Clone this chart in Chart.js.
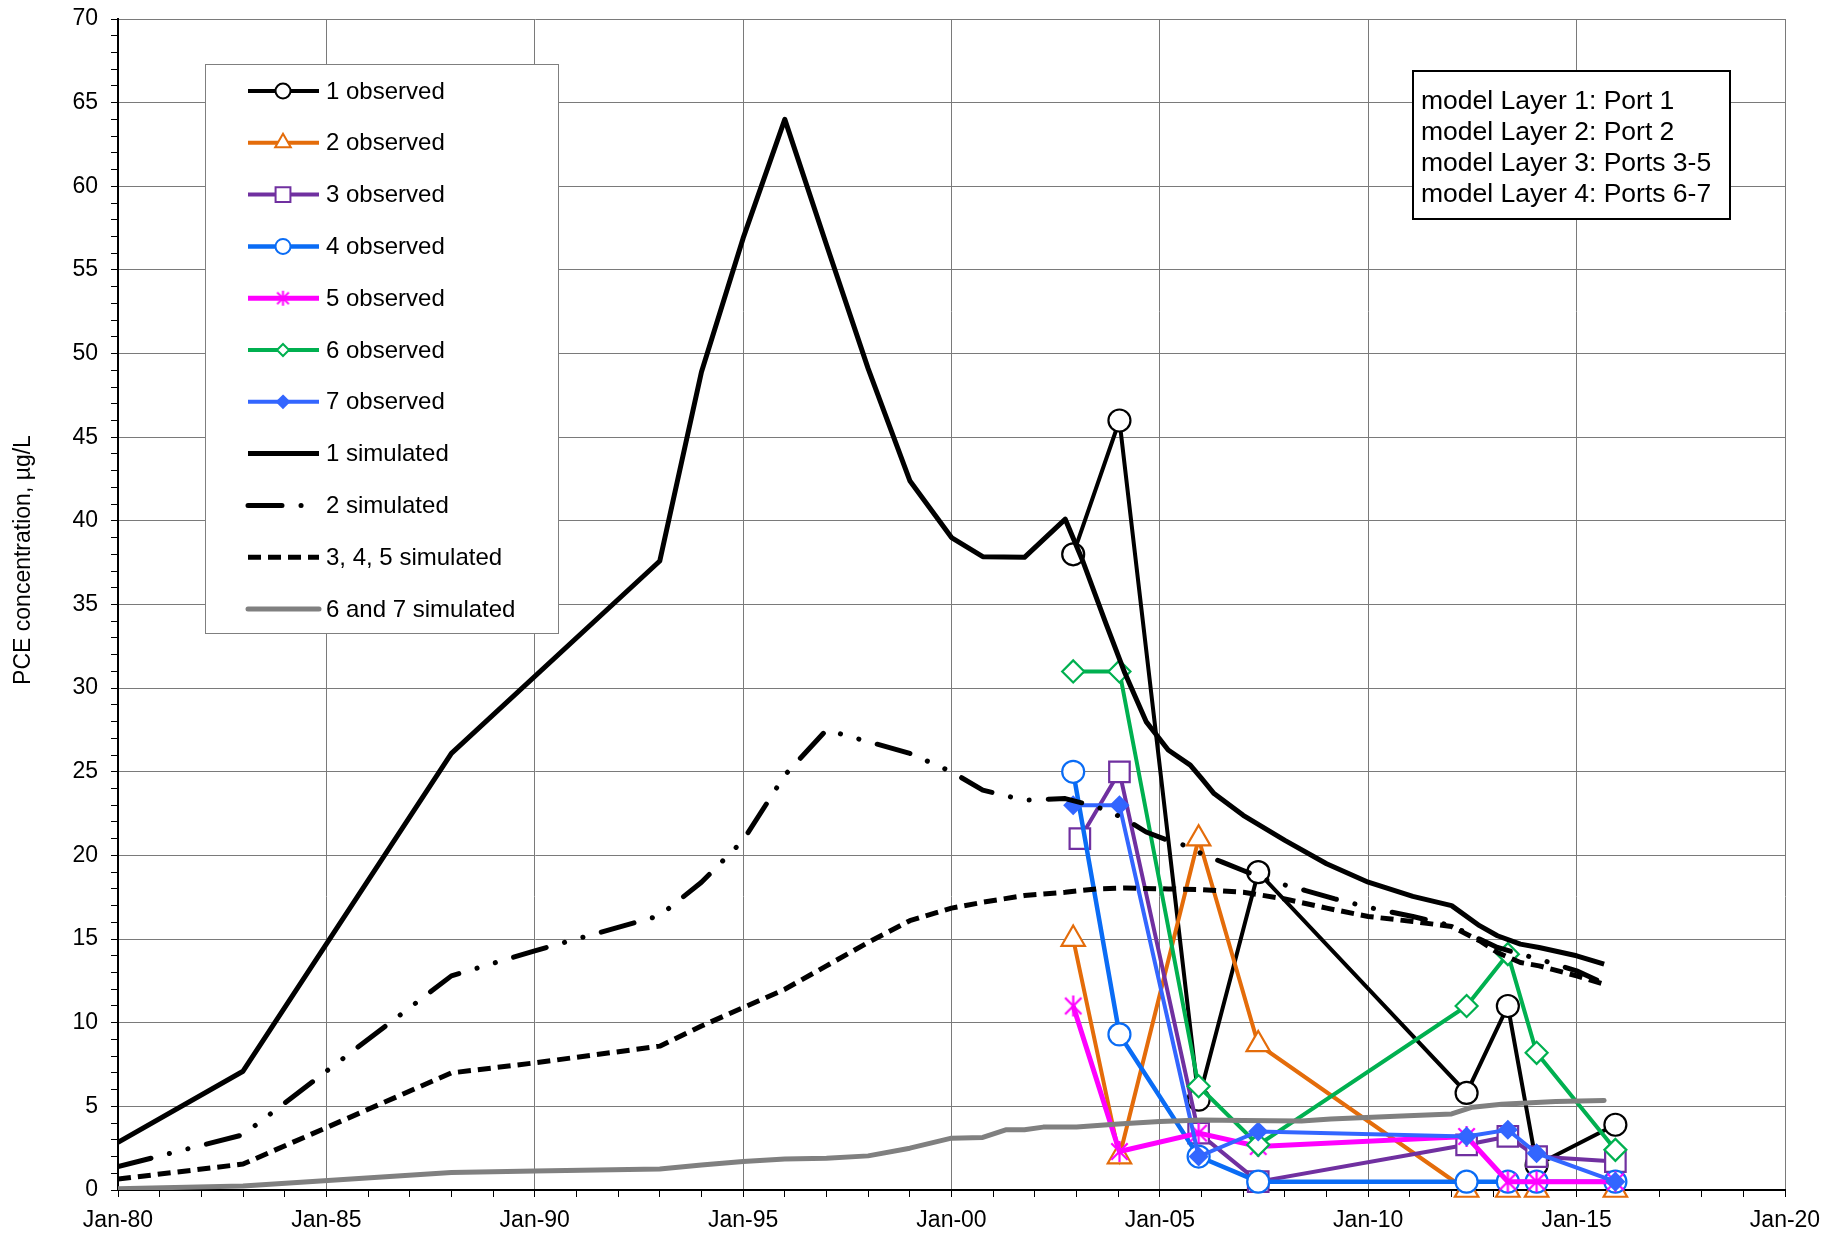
<!DOCTYPE html>
<html>
<head>
<meta charset="utf-8">
<script src="https://cdn.jsdelivr.net/npm/chart.js@4.4.0/dist/chart.umd.min.js"></script>
<style>
  html, body { margin: 0; padding: 0; background: #fff; }
  #wrap { width: 1846px; height: 1235px; position: relative; }
</style>
</head>
<body>
<div id="wrap"><canvas id="myChart"></canvas></div>
<script>
// observed sampling dates (decimal years) and values, ug/L
var obsDates  = [2002.92, 2004.03, 2005.93, 2007.36, 2012.36, 2013.35, 2014.04, 2015.93];
var obs3Dates = [2003.08, 2004.03, 2005.93, 2007.36, 2012.36, 2013.35, 2014.04, 2015.93];
var obs1 = [38.0, 46.0, 5.4, 19.0, 5.8, 11.0, 1.5, 3.9];
var obs2 = [15.0, 2.0, 21.0, 8.7, 0, 0, 0, 0];
var obs3 = [21.0, 25.0, 3.4, 0.5, 2.7, 3.2, 2.0, 1.7];
var obs4 = [25.0, 9.3, 2.0, 0.5, 0.5, 0.5, 0.5, 0.5];
var obs5 = [11.0, 2.3, 3.4, 2.6, 3.2, 0.5, 0.5, 0.5];
var obs6 = [31.0, 31.0, 6.2, 2.7, 11.0, 14.1, 8.2, 2.4];
var obs7 = [23.0, 23.0, 2.0, 3.5, 3.2, 3.6, 2.2, 0.5];

// simulated series
var sim1X = [1980, 1983, 1988, 1993, 1994, 1995, 1996, 1997, 1998, 1999, 2000, 2000.75, 2001.75, 2002.73, 2003.15, 2003.7, 2004.16, 2004.67, 2005.2, 2005.73, 2006.0, 2006.3, 2007, 2008, 2009, 2010, 2011.07, 2012, 2012.67, 2013.1, 2013.65, 2014.1, 2015, 2015.66];
var sim1Y = [2.85, 7.1, 26.1, 37.6, 48.9, 56.9, 64.0, 56.5, 49.1, 42.4, 39.0, 37.86, 37.82, 40.1, 37.6, 33.9, 30.9, 28.0, 26.3, 25.4, 24.6, 23.7, 22.4, 20.9, 19.5, 18.4, 17.55, 17.0, 15.8, 15.2, 14.7, 14.5, 14.0, 13.5];

var sim2X = [1980, 1983, 1988, 1990, 1993, 1994, 1995, 1996, 1997, 1998, 1999, 2000, 2000.75, 2001.75, 2002.73, 2003.5, 2004.16, 2004.67, 2005.2, 2005.73, 2006.0, 2006.5, 2007, 2007.6, 2008.5, 2009.2, 2010, 2011.07, 2012, 2012.67, 2013.1, 2013.65, 2014.1, 2015, 2015.66];
var sim2Y = [1.4, 3.3, 12.8, 14.3, 16.4, 18.4, 20.9, 24.8, 27.5, 26.8, 26.1, 25.0, 23.9, 23.3, 23.4, 22.9, 22.2, 21.4, 20.9, 20.5, 20.1, 19.6, 19.1, 18.5, 17.9, 17.4, 16.9, 16.35, 15.8, 15.0, 14.5, 14.1, 13.8, 13.1, 12.35];

var sim345X = [1980, 1983, 1988, 1990, 1993, 1994, 1995, 1996, 1997, 1998, 1999, 2000, 2000.75, 2001.75, 2002.73, 2003.5, 2004.16, 2005.2, 2006.0, 2007, 2008, 2009, 2010, 2011.07, 2012, 2012.67, 2013.1, 2013.65, 2014.1, 2015, 2015.66];
var sim345Y = [0.65, 1.55, 7.0, 7.6, 8.6, 9.8, 10.9, 12.0, 13.4, 14.8, 16.1, 16.85, 17.2, 17.6, 17.8, 18.0, 18.05, 18.0, 17.95, 17.8, 17.4, 16.85, 16.35, 16.05, 15.75, 14.9, 14.2, 13.6, 13.4, 12.8, 12.3];

var sim67X = [1980, 1983, 1988, 1990, 1993, 1994, 1995, 1996, 1997, 1998, 1999, 2000, 2000.75, 2001.3, 2001.75, 2002.2, 2003, 2004, 2005, 2006, 2007, 2008.4, 2009.1, 2010.8, 2012, 2012.5, 2013.2, 2014.5, 2015.66];
var sim67Y = [0.08, 0.24, 1.04, 1.14, 1.25, 1.5, 1.7, 1.85, 1.9, 2.04, 2.5, 3.1, 3.14, 3.6, 3.6, 3.76, 3.76, 3.95, 4.09, 4.19, 4.15, 4.13, 4.25, 4.43, 4.55, 4.95, 5.13, 5.29, 5.35];

var boxLines = ['model Layer 1: Port 1', 'model Layer 2: Port 2', 'model Layer 3: Ports 3-5', 'model Layer 4: Ports 6-7'];
var yTitle = 'PCE concentration, \u00b5g/L';

var fam = '"Liberation Sans", Arial, sans-serif';
Chart.defaults.font.family = fam;
Chart.defaults.color = '#000';

function pts(xs, ys) {
  return xs.map(function (x, i) { return { x: x, y: ys[i] }; });
}

// excel style asterisk marker
function makeAsterisk(size, color, lw) {
  var c = document.createElement('canvas');
  c.width = size; c.height = size;
  var g = c.getContext('2d');
  g.strokeStyle = color; g.lineWidth = lw;
  var m = size / 2, r = size / 2 - 1, d = r * 0.78;
  g.beginPath();
  g.moveTo(m, m - r); g.lineTo(m, m + r);
  g.moveTo(m - d, m - d); g.lineTo(m + d, m + d);
  g.moveTo(m - d, m + d); g.lineTo(m + d, m - d);
  g.stroke();
  return c;
}
var starBig = makeAsterisk(23, '#FF00FF', 2.2);
var starSmall = makeAsterisk(17, '#FF00FF', 2);

function obsSet(label, xs, ys, color, style, radius, fill, legR, order, lw) {
  return {
    label: label, data: pts(xs, ys), borderColor: color, borderWidth: lw || 4,
    pointStyle: style, pointRadius: radius, pointHoverRadius: radius,
    pointBackgroundColor: fill, pointBorderColor: color, pointBorderWidth: 2.2,
    legendRadius: legR, order: order, clip: false, tension: 0
  };
}
function simSet(label, xs, ys, color, dash, cap, lw, order) {
  return {
    label: label, data: pts(xs, ys), borderColor: color, borderWidth: lw,
    borderDash: dash, borderCapStyle: cap, borderJoinStyle: 'round',
    pointRadius: 0, pointHoverRadius: 0, order: order, tension: 0
  };
}

var datasets = [
  obsSet('1 observed', obsDates, obs1, '#000000', 'circle', 11, '#fff', 7.5, 11),
  obsSet('2 observed', obsDates, obs2, '#E46C0A', 'triangle', 13.5, '#fff', 9, 10),
  obsSet('3 observed', obs3Dates, obs3, '#7030A0', 'rect', 14.5, '#fff', 10.5, 9),
  obsSet('4 observed', obsDates, obs4, '#0A6CF5', 'circle', 11, '#fff', 7.5, 8, 4.5),
  obsSet('5 observed', obsDates, obs5, '#FF00FF', starBig, 11, '#FF00FF', 7.5, 7, 5),
  obsSet('6 observed', obsDates, obs6, '#00B050', 'rectRot', 11, '#fff', 6, 6),
  obsSet('7 observed', obsDates, obs7, '#3366FF', 'rectRot', 8.5, '#3366FF', 6, 5),
  simSet('1 simulated', sim1X, sim1Y, '#000000', [], 'butt', 5, 4),
  simSet('2 simulated', sim2X, sim2Y, '#000000', [34, 19, 0.1, 19, 0.1, 19], 'round', 5, 3),
  simSet('3, 4, 5 simulated', sim345X, sim345Y, '#000000', [13, 7], 'butt', 5, 2),
  simSet('6 and 7 simulated', sim67X, sim67Y, '#808080', [], 'round', 5, 1)
];
datasets[4].legendImage = starSmall;
// segments lying on the zero line sit under the axis in the original
datasets[1].segment = {
  borderColor: function (c) {
    return (c.p0.parsed.y === 0 && c.p1.parsed.y === 0) ? 'rgba(0,0,0,0)' : undefined;
  }
};

function drawMarker(ctx, ds, x, y, r) {
  var st = ds.pointStyle;
  if (typeof st === 'object') {
    var img = ds.legendImage || st;
    ctx.drawImage(img, x - img.width / 2, y - img.height / 2);
    return;
  }
  ctx.save();
  ctx.fillStyle = ds.pointBackgroundColor;
  ctx.strokeStyle = ds.pointBorderColor;
  ctx.lineWidth = 2;
  ctx.beginPath();
  if (st === 'circle') {
    ctx.arc(x, y, r, 0, Math.PI * 2);
  } else if (st === 'triangle') {
    ctx.moveTo(x, y - r); ctx.lineTo(x + r * 0.866, y + r * 0.5); ctx.lineTo(x - r * 0.866, y + r * 0.5); ctx.closePath();
  } else if (st === 'rect') {
    var s = r * 0.7071;
    ctx.rect(x - s, y - s, 2 * s, 2 * s);
  } else if (st === 'rectRot') {
    ctx.moveTo(x, y - r); ctx.lineTo(x + r, y); ctx.lineTo(x, y + r); ctx.lineTo(x - r, y); ctx.closePath();
  }
  ctx.fill();
  ctx.stroke();
  ctx.restore();
}

var extras = {
  id: 'extras',
  afterDraw: function (chart) {
    var ctx = chart.ctx;
    ctx.save();

    // y axis title
    ctx.save();
    ctx.translate(24, 560);
    ctx.rotate(-Math.PI / 2);
    ctx.font = '23px ' + fam;
    ctx.fillStyle = '#000';
    ctx.textAlign = 'center';
    ctx.textBaseline = 'middle';
    ctx.fillText(yTitle, 0, 0);
    ctx.restore();

    // legend
    ctx.fillStyle = '#fff';
    ctx.fillRect(205.5, 64.5, 353, 569);
    ctx.strokeStyle = '#7f7f7f';
    ctx.lineWidth = 1;
    ctx.strokeRect(205.5, 64.5, 353, 569);
    chart.data.datasets.forEach(function (ds, i) {
      var y = 91 + i * 51.8;
      ctx.save();
      ctx.strokeStyle = ds.borderColor;
      ctx.lineWidth = ds.borderWidth;
      ctx.setLineDash(ds.borderDash || []);
      ctx.lineCap = ds.borderCapStyle || 'butt';
      ctx.beginPath();
      ctx.moveTo(248, y);
      ctx.lineTo(319, y);
      ctx.stroke();
      ctx.restore();
      if (ds.pointRadius > 0) drawMarker(ctx, ds, 283, y, ds.legendRadius);
      ctx.fillStyle = '#000';
      ctx.font = '24px ' + fam;
      ctx.textAlign = 'left';
      ctx.textBaseline = 'middle';
      ctx.fillText(ds.label, 326, y + 1);
    });

    // layer note box
    ctx.fillStyle = '#fff';
    ctx.fillRect(1413, 71, 317, 148);
    ctx.strokeStyle = '#000';
    ctx.lineWidth = 2;
    ctx.strokeRect(1413, 71, 317, 148);
    ctx.fillStyle = '#000';
    ctx.font = '26.5px ' + fam;
    ctx.textAlign = 'left';
    ctx.textBaseline = 'middle';
    boxLines.forEach(function (t, i) {
      ctx.fillText(t, 1421, 102 + i * 31);
    });
    ctx.restore();
  }
};

function gridCol(c) {
  return c.tick && Math.round(c.tick.value) % 5 === 0 ? '#7a7a7a' : 'rgba(0,0,0,0)';
}

new Chart('myChart', {
  type: 'line',
  data: { datasets: datasets },
  options: {
    responsive: true,
    maintainAspectRatio: false,
    animation: false,
    layout: { padding: { top: 19, right: 61, left: 0, bottom: 0 } },
    plugins: { legend: { display: false }, tooltip: { enabled: false } },
    scales: {
      x: {
        type: 'linear', min: 1980, max: 2020,
        ticks: {
          stepSize: 1, maxTicksLimit: 100, autoSkip: false, maxRotation: 0,
          padding: 10, color: '#000', font: { size: 23 },
          callback: function (v) {
            var n = Math.round(v);
            return n % 5 === 0 ? 'Jan-' + String(n % 100).padStart(2, '0') : '';
          }
        },
        grid: { color: gridCol, tickColor: '#000', tickLength: 7, lineWidth: 1 },
        border: { color: '#000', width: 2 },
        afterFit: function (s) { s.height = 45; }
      },
      y: {
        min: 0, max: 70,
        ticks: {
          stepSize: 1, maxTicksLimit: 100, autoSkip: false,
          padding: 13, color: '#000', font: { size: 23 },
          callback: function (v) { return Math.round(v) % 5 === 0 ? String(v) : ''; }
        },
        grid: { color: gridCol, tickColor: '#000', tickLength: 7, lineWidth: 1 },
        border: { color: '#000', width: 2 },
        afterFit: function (s) { s.width = 118; s.paddingTop = 0; s.paddingBottom = 0; }
      }
    }
  },
  plugins: [extras]
});
</script>
</body>
</html>
